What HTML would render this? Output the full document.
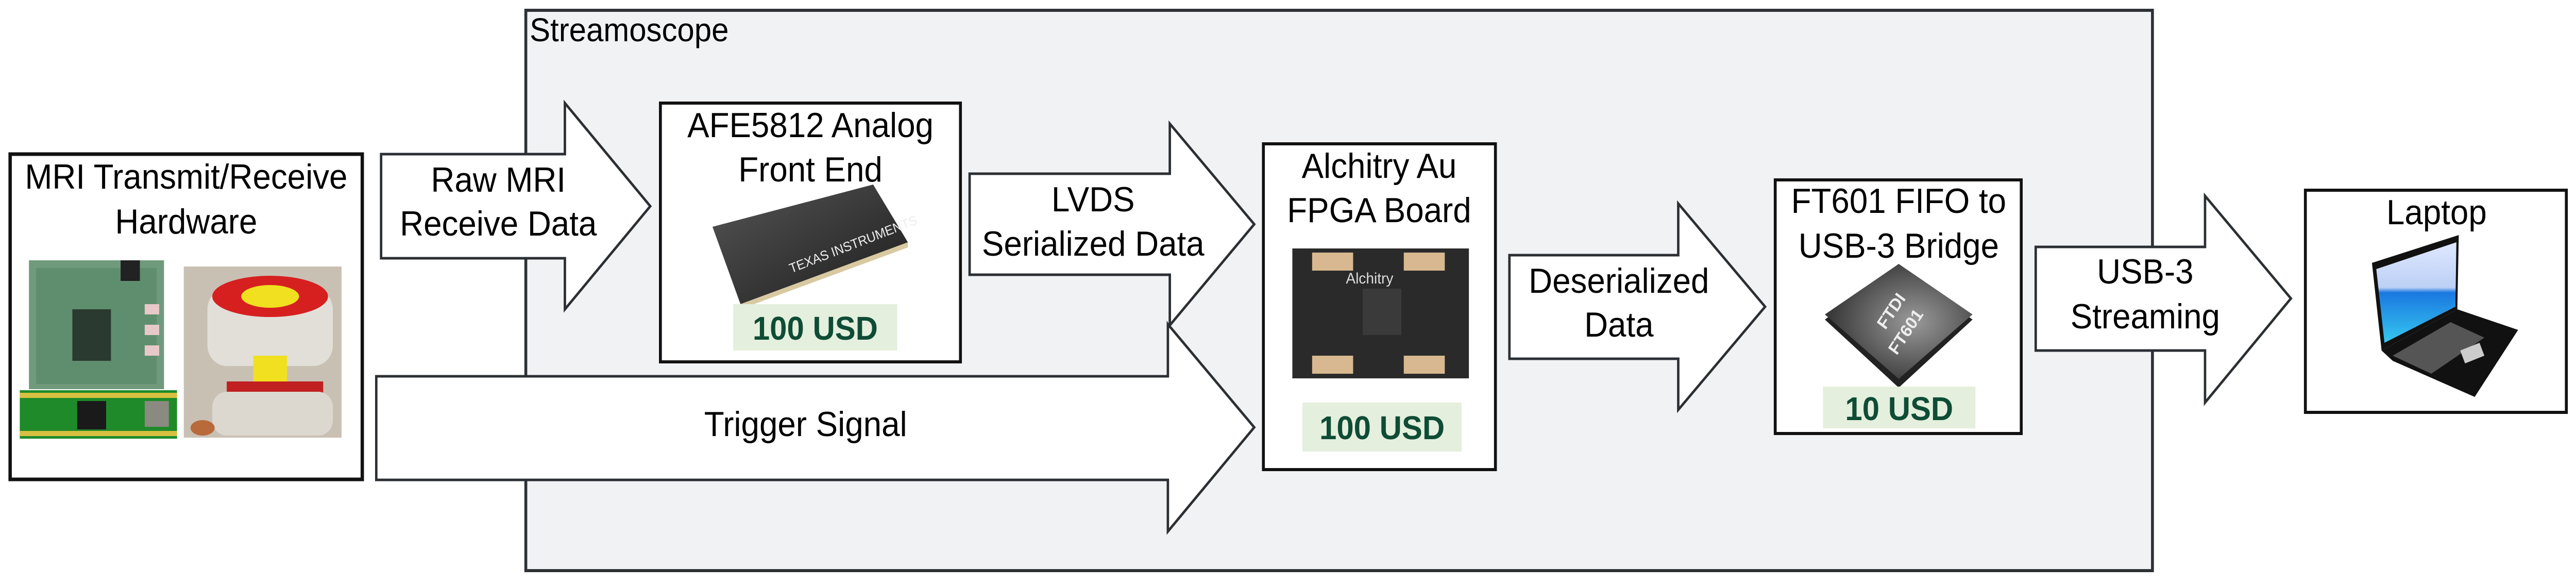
<!DOCTYPE html>
<html><head><meta charset="utf-8"><style>
html,body{margin:0;padding:0;background:#fff;width:100%;height:100%;overflow:hidden;}
svg{display:block;width:100vw;height:100vh;}
text{font-family:"Liberation Sans",Arial,sans-serif;fill:#000;}
</style></head><body>
<svg viewBox="0 0 5340 1131" preserveAspectRatio="none" xmlns="http://www.w3.org/2000/svg">
<defs>
<linearGradient id="chip" x1="0" y1="0" x2="1" y2="1"><stop offset="0" stop-color="#555"/><stop offset="1" stop-color="#1c1c1c"/></linearGradient>
<radialGradient id="ft" cx="0.6" cy="0.5" r="0.6"><stop offset="0" stop-color="#9a9a9a"/><stop offset="1" stop-color="#333"/></radialGradient>
<linearGradient id="scr" x1="0" y1="0" x2="0" y2="1"><stop offset="0" stop-color="#dfe8ff"/><stop offset="0.45" stop-color="#bcd0f5"/><stop offset="0.5" stop-color="#1a78e0"/><stop offset="1" stop-color="#35c8f0"/></linearGradient>
</defs>

<rect x="1090" y="20" width="3372" height="1087" fill="#f1f2f4" stroke="#2e3236" stroke-width="6"/>
<text x="1098" y="80" font-size="64">Streamoscope</text>

<rect x="21" y="299" width="730" height="631" fill="#fff" stroke="#111" stroke-width="7"/>
<text x="386" y="366" font-size="68" text-anchor="middle">MRI Transmit/Receive</text>
<text x="386" y="453" font-size="68" text-anchor="middle">Hardware</text>
<rect x="60" y="505" width="280" height="250" fill="#6f9b7c"/>
<rect x="75" y="520" width="250" height="225" fill="#5f8e6e"/>
<rect x="150" y="600" width="80" height="100" fill="#2a3a30"/>
<rect x="250" y="505" width="40" height="40" fill="#222"/>
<rect x="300" y="590" width="30" height="20" fill="#e8c8c8"/>
<rect x="300" y="630" width="30" height="20" fill="#e8c8c8"/>
<rect x="300" y="670" width="30" height="20" fill="#e8c8c8"/>
<rect x="41" y="757" width="326" height="94" fill="#1f8a2a"/>
<rect x="41" y="762" width="326" height="10" fill="#d8c040"/>
<rect x="41" y="836" width="326" height="10" fill="#d8c040"/>
<rect x="160" y="778" width="60" height="55" fill="#1a1a1a"/>
<rect x="300" y="778" width="50" height="50" fill="#8a8a80"/>
<rect x="381" y="517" width="327" height="332" fill="#c9c0b4"/>
<rect x="430" y="560" width="260" height="150" rx="40" fill="#e2dfd8"/>
<ellipse cx="560" cy="575" rx="120" ry="40" fill="#d62020"/>
<ellipse cx="560" cy="575" rx="60" ry="22" fill="#f0e020"/>
<rect x="525" y="690" width="70" height="80" fill="#f0e020"/>
<rect x="470" y="740" width="200" height="30" fill="#c02020"/>
<rect x="440" y="760" width="250" height="85" rx="30" fill="#dcd8d0"/>
<ellipse cx="420" cy="830" rx="25" ry="15" fill="#b86a3a"/>

<polygon points="790,299 1171,299 1171,200 1348,400 1171,600 1171,501 790,501" fill="#fff" stroke="#2b2f33" stroke-width="5"/>
<text x="1033" y="372" font-size="68" text-anchor="middle">Raw MRI</text>
<text x="1033" y="457" font-size="68" text-anchor="middle">Receive Data</text>

<rect x="1369" y="200" width="622" height="502" fill="#fff" stroke="#111" stroke-width="6"/>
<text x="1680" y="266" font-size="68" text-anchor="middle">AFE5812 Analog</text>
<text x="1680" y="352" font-size="68" text-anchor="middle">Front End</text>
<polygon points="1477,440 1810,358 1882,470 1535,590" fill="url(#chip)"/>
<polygon points="1535,590 1882,470 1882,480 1540,598" fill="#d8c9a0"/>
<text x="1640" y="530" font-size="26" style="fill:#eee" transform="rotate(-20 1640 530)">TEXAS INSTRUMENTS</text>
<rect x="1520" y="590" width="340" height="90" fill="#e4efdd"/>
<text x="1690" y="659" font-size="64" font-weight="bold" text-anchor="middle" style="fill:#0f4c35">100 USD</text>

<polygon points="780,730 2421,730 2421,629 2600,829 2421,1031 2421,931 780,931" fill="#fff" stroke="#2b2f33" stroke-width="5"/>
<text x="1670" y="846" font-size="68" text-anchor="middle">Trigger Signal</text>

<polygon points="2010,337 2425,337 2425,240 2600,435 2425,631 2425,533 2010,533" fill="#fff" stroke="#2b2f33" stroke-width="5"/>
<text x="2266" y="410" font-size="68" text-anchor="middle">LVDS</text>
<text x="2266" y="496" font-size="68" text-anchor="middle">Serialized Data</text>

<rect x="2619" y="279" width="481" height="632" fill="#fff" stroke="#111" stroke-width="6"/>
<text x="2859" y="345" font-size="68" text-anchor="middle">Alchitry Au</text>
<text x="2859" y="431" font-size="68" text-anchor="middle">FPGA Board</text>
<rect x="2679" y="482" width="366" height="252" fill="#2a2a2a"/>
<rect x="2720" y="490" width="85" height="35" fill="#d8b890"/>
<rect x="2910" y="490" width="85" height="35" fill="#d8b890"/>
<rect x="2720" y="690" width="85" height="35" fill="#d8b890"/>
<rect x="2910" y="690" width="85" height="35" fill="#d8b890"/>
<rect x="2825" y="560" width="80" height="90" fill="#3a3a3a"/>
<text x="2790" y="550" font-size="30" style="fill:#ddd">Alchitry</text>
<rect x="2700" y="781" width="330" height="95" fill="#e4efdd"/>
<text x="2865" y="852" font-size="64" font-weight="bold" text-anchor="middle" style="fill:#0f4c35">100 USD</text>

<polygon points="3129,495 3479,495 3479,395 3659,595 3479,795 3479,696 3129,696" fill="#fff" stroke="#2b2f33" stroke-width="5"/>
<text x="3356" y="568" font-size="68" text-anchor="middle">Deserialized</text>
<text x="3356" y="653" font-size="68" text-anchor="middle">Data</text>

<rect x="3680" y="349" width="510" height="492" fill="#fff" stroke="#111" stroke-width="6"/>
<text x="3936" y="413" font-size="68" text-anchor="middle">FT601 FIFO to</text>
<text x="3936" y="500" font-size="68" text-anchor="middle">USB-3 Bridge</text>
<polygon points="3936,512 4089,620 3936,752 3783,620" fill="#222"/>
<polygon points="3936,512 4089,610 3936,735 3783,610" fill="url(#ft)"/>
<text x="3930" y="610" font-size="34" font-weight="bold" style="fill:#eee" transform="rotate(-55 3930 610)" text-anchor="middle">FTDI</text>
<text x="3960" y="650" font-size="34" font-weight="bold" style="fill:#eee" transform="rotate(-55 3960 650)" text-anchor="middle">FT601</text>
<rect x="3779" y="750" width="316" height="81" fill="#e4efdd"/>
<text x="3937" y="815" font-size="64" font-weight="bold" text-anchor="middle" style="fill:#0f4c35">10 USD</text>

<polygon points="4220,479 4571,479 4571,380 4749,579 4571,781 4571,680 4220,680" fill="#fff" stroke="#2b2f33" stroke-width="5"/>
<text x="4447" y="550" font-size="68" text-anchor="middle">USB-3</text>
<text x="4447" y="637" font-size="68" text-anchor="middle">Streaming</text>

<rect x="4779" y="369" width="541" height="431" fill="#fff" stroke="#111" stroke-width="6"/>
<text x="5051" y="435" font-size="68" text-anchor="middle">Laptop</text>
<polygon points="4917,510 5097,456 5094,600 4937,680" fill="#111"/>
<polygon points="4926,522 5092,470 5090,595 4943,665" fill="url(#scr)"/>
<polygon points="4937,680 5094,600 5220,640 5130,770 4960,700" fill="#111"/>
<polygon points="4960,690 5080,625 5150,655 5040,725" fill="#555"/>
<polygon points="5100,680 5140,665 5150,690 5110,705" fill="#ccc"/>
</svg>
</body></html>
